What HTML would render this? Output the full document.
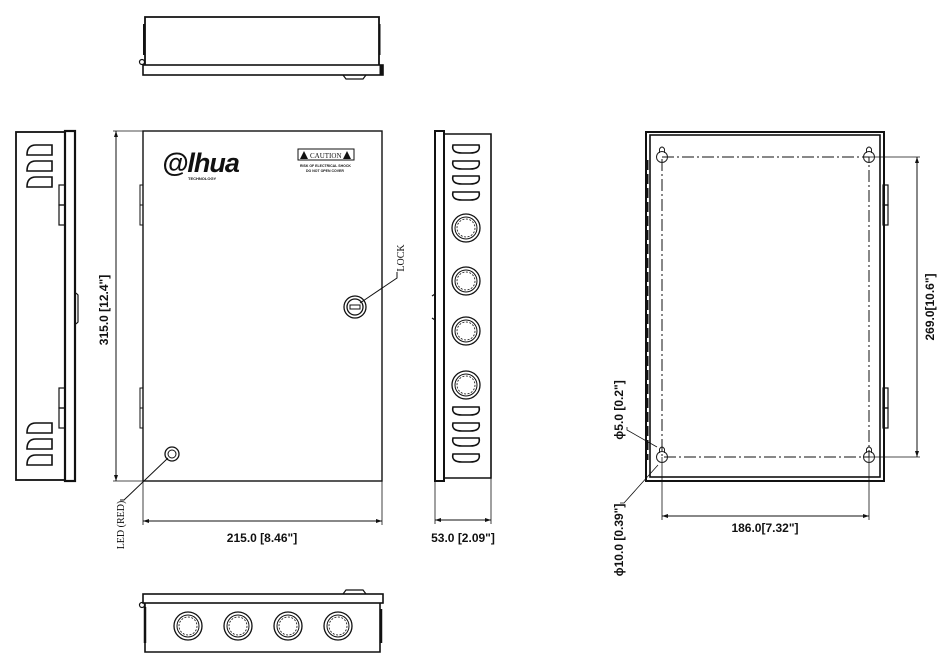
<!DOCTYPE html>
<html><head><meta charset="utf-8"><style>
html,body{margin:0;padding:0;background:#fff;width:947px;height:667px;overflow:hidden}
svg text{font-family:"Liberation Sans",sans-serif;font-weight:bold;fill:#111}
</style></head><body>
<svg width="947" height="667" viewBox="0 0 947 667" xmlns="http://www.w3.org/2000/svg">
<defs>
<g id="ko"><circle r="14" fill="none" stroke="#111" stroke-width="1.3"/><circle r="11" fill="none" stroke="#111" stroke-width="1"/><circle r="9" fill="none" stroke="#111" stroke-width="0.8" stroke-dasharray="2 1.5"/></g>
<g id="kh"><circle r="5.5" fill="none" stroke="#222" stroke-width="1"/><path d="M-2.5 -4 L-2.5 -8 Q0 -12 2.5 -8 L2.5 -4" fill="none" stroke="#222" stroke-width="1"/></g>
<path id="ls" d="M52 0 L36 0 Q27 0 27 10 L52 10 Z" fill="none" stroke="#111" stroke-width="1.6"/>
<path id="rs" d="M453 0 L479 0 Q481 8 470 8 L462 8 Q451 8 453 0 Z" fill="none" stroke="#111" stroke-width="1.6"/>
</defs>
<g stroke="#111" fill="none">
<!-- top view -->
<path d="M145 65 L145 17 L379 17 L379 65" stroke-width="1.8"/>
<rect x="143" y="65" width="240" height="10" stroke-width="1.6"/>
<line x1="381" y1="65" x2="381" y2="75" stroke-width="3"/>
<circle cx="142" cy="62" r="2.5" stroke-width="1.2"/>
<path d="M343 75 L346 79 L363 79 L366 75" stroke-width="1.2"/>
<line x1="380" y1="24" x2="380" y2="55" stroke-width="1"/>
<line x1="144" y1="24" x2="144" y2="55" stroke-width="2"/>
<!-- bottom view -->
<rect x="143" y="594" width="240" height="9" stroke-width="1.6"/>
<path d="M145 603 L145 652 L380 652 L380 603" stroke-width="1.6"/>
<line x1="145" y1="607" x2="145" y2="643" stroke-width="2.5"/>
<line x1="381" y1="609" x2="381" y2="643" stroke-width="2.5"/>
<circle cx="142" cy="605" r="2.5" stroke-width="1.2"/>
<path d="M343 594 L346 590 L363 590 L366 594" stroke-width="1.2"/>
<use href="#ko" x="188" y="626"/><use href="#ko" x="238" y="626"/><use href="#ko" x="288" y="626"/><use href="#ko" x="338" y="626"/>
<!-- left side view -->
<rect x="16" y="132" width="49" height="348" stroke-width="1.8"/>
<rect x="65" y="131" width="10" height="350" stroke-width="2.2"/>
<rect x="59" y="185" width="6" height="20" stroke-width="1.2"/><rect x="59" y="205" width="6" height="20" stroke-width="1.2"/>
<rect x="59" y="388" width="6" height="20" stroke-width="1.2"/><rect x="59" y="408" width="6" height="20" stroke-width="1.2"/>
<path d="M76 293 L78 295 L78 322 L76 324" stroke-width="1.2"/>
<use href="#ls" y="145"/><use href="#ls" y="161"/><use href="#ls" y="177"/>
<use href="#ls" y="423"/><use href="#ls" y="439"/><use href="#ls" y="455"/>
<!-- front view -->
<rect x="143" y="131" width="239" height="350" stroke-width="1.4"/>
<rect x="140" y="185" width="3" height="40" stroke-width="1"/><line x1="140" y1="205" x2="143" y2="205"/>
<rect x="140" y="388" width="3" height="40" stroke-width="1"/><line x1="140" y1="408" x2="143" y2="408"/>
<line x1="116" y1="131" x2="116" y2="481" stroke-width="1"/>
<line x1="113" y1="131" x2="143" y2="131" stroke-width="0.8"/><line x1="113" y1="481" x2="143" y2="481" stroke-width="0.8"/>
<line x1="143" y1="481" x2="143" y2="525" stroke-width="0.8"/><line x1="382" y1="481" x2="382" y2="525" stroke-width="0.8"/>
<line x1="143" y1="521" x2="382" y2="521" stroke-width="1"/>
<circle cx="355" cy="307" r="11" stroke-width="1.3"/><circle cx="355" cy="307" r="8" stroke-width="1.3"/>
<rect x="350" y="305" width="10" height="4" stroke-width="1"/>
<polyline points="360,303 397,278 397,272" stroke-width="1"/>
<circle cx="172" cy="454" r="7" stroke-width="1.3"/><circle cx="172" cy="454" r="4" stroke-width="1"/>
<polyline points="168,458 124,500 120,500" stroke-width="1"/>
<rect x="298" y="149" width="56" height="11" stroke-width="1"/>
<!-- right side view -->
<rect x="435" y="131" width="9" height="350" stroke-width="2"/>
<path d="M444 134 L491 134 L491 478 L444 478" stroke-width="1.6"/>
<path d="M432 296 L435 294 L435 320 L432 318" stroke-width="1.2"/>
<line x1="435" y1="481" x2="435" y2="524" stroke-width="0.8"/><line x1="491" y1="478" x2="491" y2="524" stroke-width="0.8"/>
<line x1="435" y1="520" x2="491" y2="520" stroke-width="1"/>
<use href="#ko" x="466" y="228"/><use href="#ko" x="466" y="281"/><use href="#ko" x="466" y="331"/><use href="#ko" x="466" y="385"/>
<use href="#rs" y="145"/><use href="#rs" y="161"/><use href="#rs" y="176"/><use href="#rs" y="192"/>
<use href="#rs" y="407"/><use href="#rs" y="423"/><use href="#rs" y="438"/><use href="#rs" y="454"/>
<!-- back view -->
<rect x="646" y="132" width="238" height="349" stroke-width="2"/>
<rect x="650" y="135" width="230" height="342" stroke-width="1.6"/>
<rect x="662" y="157" width="207" height="300" stroke-width="1" stroke-dasharray="12 3 2 3"/>
<rect x="883" y="185" width="5" height="20" stroke-width="1.2"/><rect x="883" y="205" width="5" height="20" stroke-width="1.2"/>
<rect x="883" y="388" width="5" height="20" stroke-width="1.2"/><rect x="883" y="408" width="5" height="20" stroke-width="1.2"/>
<line x1="647" y1="160" x2="647" y2="460" stroke-width="3" stroke-dasharray="10 4"/>
<line x1="869" y1="157" x2="920" y2="157" stroke-width="0.8"/><line x1="869" y1="457" x2="920" y2="457" stroke-width="0.8"/>
<line x1="917" y1="157" x2="917" y2="457" stroke-width="1"/>
<line x1="662" y1="457" x2="662" y2="520" stroke-width="0.8"/><line x1="869" y1="457" x2="869" y2="520" stroke-width="0.8"/>
<line x1="662" y1="516" x2="869" y2="516" stroke-width="1"/>
<polyline points="627,427 627,430 657,447" stroke-width="0.8"/>
<polyline points="620,503 624,503 658,465" stroke-width="0.8"/>
</g>
<g fill="#111">
<polygon points="143,521 149,519 149,523"/><polygon points="382,521 376,519 376,523"/>
<polygon points="116,131 114,137 118,137"/><polygon points="116,481 114,475 118,475"/>
<polygon points="435,520 441,518 441,522"/><polygon points="491,520 485,518 485,522"/>
<polygon points="662,516 668,514 668,518"/><polygon points="869,516 863,514 863,518"/>
<polygon points="917,157 915,163 919,163"/><polygon points="917,457 915,451 919,451"/>
<polygon points="300,159 304,151 308,159"/><polygon points="343,159 347,151 351,159"/>
</g>
<use href="#kh" x="662" y="157"/><use href="#kh" x="869" y="157"/><use href="#kh" x="662" y="457"/><use href="#kh" x="869" y="457"/>
<text x="162" y="172" style="font-size:27px;font-style:italic;font-weight:900;letter-spacing:-1px">@lhua</text>
<text x="188" y="180" style="font-size:4px">TECHNOLOGY</text>
<text x="310" y="158" style="font-size:7px;font-weight:normal;font-family:'Liberation Serif',serif">CAUTION</text>
<text x="300" y="167" style="font-size:3.5px">RISK OF ELECTRICAL SHOCK</text>
<text x="306" y="172" style="font-size:3.5px">DO NOT OPEN COVER</text>
<text x="262" y="542" text-anchor="middle" style="font-size:12px">215.0 [8.46"]</text>
<text x="463" y="542" text-anchor="middle" style="font-size:12px">53.0 [2.09"]</text>
<text x="765" y="532" text-anchor="middle" style="font-size:12px">186.0[7.32"]</text>
<text transform="translate(108,310) rotate(-90)" text-anchor="middle" style="font-size:12px">315.0 [12.4"]</text>
<text transform="translate(934,307) rotate(-90)" text-anchor="middle" style="font-size:12px">269.0[10.6"]</text>
<text transform="translate(623,410) rotate(-90)" text-anchor="middle" style="font-size:12px">ϕ5.0 [0.2"]</text>
<text transform="translate(623,540) rotate(-90)" text-anchor="middle" style="font-size:12px">ϕ10.0 [0.39"]</text>
<text transform="translate(124,525) rotate(-90)" text-anchor="middle" style="font-size:10px;font-weight:normal;font-family:'Liberation Serif',serif">LED (RED)</text>
<text transform="translate(404,258) rotate(-90)" text-anchor="middle" style="font-size:10px;font-weight:normal;font-family:'Liberation Serif',serif">LOCK</text>
</svg>
</body></html>
